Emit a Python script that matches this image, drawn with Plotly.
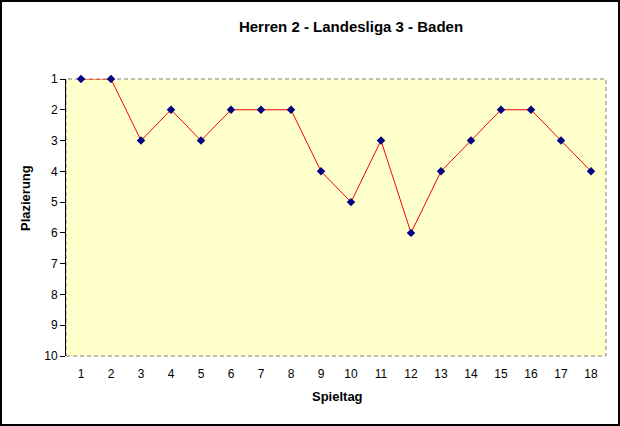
import plotly.graph_objects as go

SPIELTAG = list(range(1, 19))
PLATZ = [1, 1, 3, 2, 3, 2, 2, 2, 4, 5, 3, 6, 4, 3, 2, 2, 3, 4]
Y_TICKS = list(range(1, 11))

W, H = 620, 426
L, R, T, B = 66, 14, 79, 70
PW, PH = W - L - R, H - T - B
FONT = "Liberation Sans, Arial, sans-serif"

fig = go.Figure()
fig.add_trace(
    go.Scatter(
        x=SPIELTAG,
        y=PLATZ,
        mode="lines+markers",
        line=dict(color="#ff0000", width=1),
        marker=dict(symbol="diamond", size=6.5, color="#000080"),
        showlegend=False,
        cliponaxis=False,
    )
)

# dashed plot area frame (top/right/bottom), outer chart border
fig.add_shape(
    type="rect", xref="paper", yref="paper", x0=0, x1=1, y0=0, y1=1,
    line=dict(color="#808080", width=1, dash="4px,3px"), layer="below",
    fillcolor="#ffffcc",
)
fig.add_shape(
    type="rect", xref="paper", yref="paper",
    x0=(1 - L) / PW, x1=1 + (R - 1) / PW,
    y0=-(B - 1) / PH, y1=1 + (T - 1) / PH,
    line=dict(color="#000000", width=2),
)

# axis titles placed as in the original
fig.add_annotation(
    text="<b>Spieltag</b>", xref="paper", yref="paper",
    x=(337 - L) / PW, y=-(396 - T - PH) / PH,
    showarrow=False, font=dict(size=13), xanchor="center", yanchor="middle",
)
fig.add_annotation(
    text="<b>Plazierung</b>", xref="paper", yref="paper",
    x=(25 - L) / PW, y=1 - (198 - T) / PH, textangle=-90,
    showarrow=False, font=dict(size=13), xanchor="center", yanchor="middle",
)

fig.update_layout(
    width=W,
    height=H,
    margin=dict(l=L, r=R, t=T, b=B),
    paper_bgcolor="#ffffff",
    plot_bgcolor="rgba(0,0,0,0)",
    font=dict(family=FONT, size=12, color="#000000"),
    title=dict(
        text="<b>Herren 2 - Landesliga 3 - Baden</b>",
        x=351 / W, xanchor="center", y=1 - 27 / H, yanchor="middle",
        font=dict(size=15),
    ),
)
fig.update_xaxes(
    range=[0.5, 18.5],
    tickmode="array",
    tickvals=SPIELTAG,
    showgrid=False,
    zeroline=False,
    ticks="",
    showline=False,
    tickfont=dict(size=12),
    ticklabelstandoff=9,
)
fig.update_yaxes(
    range=[10, 1],
    tickmode="array",
    tickvals=Y_TICKS,
    showgrid=False,
    zeroline=False,
    showline=True,
    linecolor="#000000",
    linewidth=1,
    ticks="outside",
    ticklen=5,
    tickcolor="#000000",
    tickfont=dict(size=12),
)

fig.write_html(
    "out.html",
    config={"displayModeBar": False},
    post_script="document.body.style.margin='0px';",
)
